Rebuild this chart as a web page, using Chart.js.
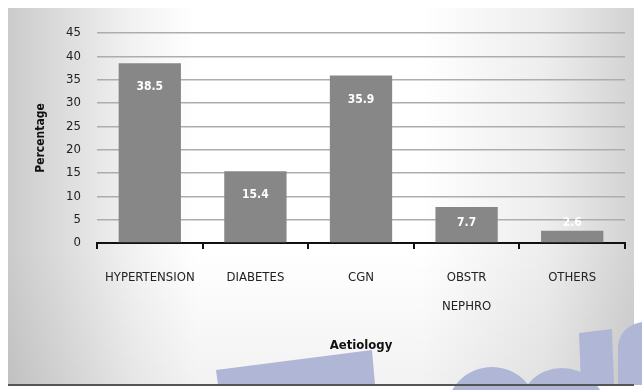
<!DOCTYPE html>
<html>
<head>
<meta charset="utf-8">
<script src="https://cdn.jsdelivr.net/npm/chart.js@4.4.0/dist/chart.umd.min.js"></script>
<style>
  html, body { margin: 0; padding: 0; background: #fff; }
  #wrap { width: 642px; height: 390px; }
</style>
</head>
<body>
<div id="wrap"><canvas id="aetiologyChart" width="642" height="390"></canvas></div>
<script>
var categories = [['HYPERTENSION'], ['DIABETES'], ['CGN'], ['OBSTR', 'NEPHRO'], ['OTHERS']];
var percentages = [38.5, 15.4, 35.9, 7.7, 2.6];
var valueLabels = ['38.5', '15.4', '35.9', '7.7', '2.6'];

var fontFam = '"Liberation Sans Narrow", "DejaVu Sans Condensed", sans-serif';

// slide background: grey gradient, bottom rule, watermark bits
var backdrop = {
  id: 'backdrop',
  beforeDraw: function(chart) {
    var ctx = chart.ctx;
    ctx.save();
    ctx.fillStyle = '#fff';
    ctx.fillRect(0, 0, 642, 390);
    var g = ctx.createLinearGradient(8, 0, 634, 0);
    g.addColorStop(0, '#cbcbcb');
    g.addColorStop(0.2, '#f2f2f2');
    g.addColorStop(0.3, '#ffffff');
    g.addColorStop(0.66, '#ffffff');
    g.addColorStop(0.86, '#ededed');
    g.addColorStop(1, '#d2d2d2');
    ctx.fillStyle = g;
    ctx.fillRect(8, 8, 626, 377);
    var v = ctx.createLinearGradient(0, 250, 0, 385);
    v.addColorStop(0, 'rgba(0,0,0,0)');
    v.addColorStop(1, 'rgba(0,0,0,0.05)');
    ctx.fillStyle = v;
    ctx.fillRect(8, 250, 626, 135);

    ctx.fillStyle = '#b0b6d6';
    ctx.beginPath();
    ctx.moveTo(218, 385); ctx.lineTo(216, 370); ctx.lineTo(372, 350); ctx.lineTo(375, 385);
    ctx.closePath(); ctx.fill();
    ctx.beginPath();
    ctx.arc(492, 413, 46, Math.PI, 2 * Math.PI);
    ctx.fill();
    ctx.beginPath();
    ctx.arc(562, 412, 44, Math.PI, 2 * Math.PI);
    ctx.fill();
    ctx.beginPath();
    ctx.moveTo(581, 385); ctx.lineTo(579, 333); ctx.lineTo(612, 329); ctx.lineTo(614, 385);
    ctx.closePath(); ctx.fill();
    ctx.beginPath();
    ctx.moveTo(618, 385); ctx.lineTo(618, 345); ctx.quadraticCurveTo(621, 326, 642, 322); ctx.lineTo(642, 385);
    ctx.closePath(); ctx.fill();

    ctx.fillStyle = '#555';
    ctx.fillRect(8, 384, 626, 2);
    ctx.restore();
  }
};

// white value labels just inside the bar tops
var barValues = {
  id: 'barValues',
  afterDatasetsDraw: function(chart) {
    var ctx = chart.ctx;
    var meta = chart.getDatasetMeta(0);
    var base = chart.scales.y.getPixelForValue(0);
    ctx.save();
    ctx.fillStyle = '#ffffff';
    ctx.font = 'bold 12px ' + fontFam;
    ctx.textAlign = 'center';
    ctx.textBaseline = 'middle';
    meta.data.forEach(function(bar, i) {
      var y = Math.min(bar.y + 24, base - 20);
      ctx.fillText(valueLabels[i], bar.x, y);
    });
    ctx.restore();
  }
};

const ctxEl = document.getElementById('aetiologyChart');

let aetiologyChart = new Chart(ctxEl, {
  type: 'bar',
  data: {
    labels: categories,
    datasets: [{
      data: percentages,
      backgroundColor: '#878787',
      borderWidth: 0,
      categoryPercentage: 1,
      barPercentage: 0.59
    }]
  },
  options: {
    responsive: false,
    animation: false,
    events: [],
    layout: { padding: { left: 8, right: 17, top: 33, bottom: 0 } },
    plugins: { legend: { display: false }, tooltip: { enabled: false } },
    scales: {
      x: {
        afterFit: function(scale) { scale.height = 147; },
        border: { display: true, color: '#111', width: 2 },
        grid: {
          offset: true,
          drawOnChartArea: false,
          drawTicks: true,
          tickLength: 6,
          color: '#111',
          lineWidth: 2
        },
        ticks: {
          color: '#222',
          padding: 14,
          maxRotation: 0,
          autoSkip: false,
          font: { family: fontFam, size: 13, lineHeight: 2.25 }
        },
        title: {
          display: true,
          text: 'Aetiology',
          color: '#111',
          font: { family: fontFam, size: 13, weight: 'bold' },
          padding: { top: 0, bottom: 37 }
        }
      },
      y: {
        min: 0,
        max: 45,
        afterFit: function(scale) { scale.width = 89; },
        border: { display: false },
        grid: { color: '#adadad', lineWidth: 1.6, drawTicks: false },
        ticks: {
          stepSize: 5,
          color: '#222',
          padding: 16,
          font: { family: fontFam, size: 13 }
        },
        title: {
          display: true,
          text: 'Percentage',
          color: '#111',
          font: { family: fontFam, size: 12, weight: 'bold' },
          padding: { top: 26, bottom: 0 }
        }
      }
    }
  },
  plugins: [backdrop, barValues]
});
</script>
</body>
</html>
